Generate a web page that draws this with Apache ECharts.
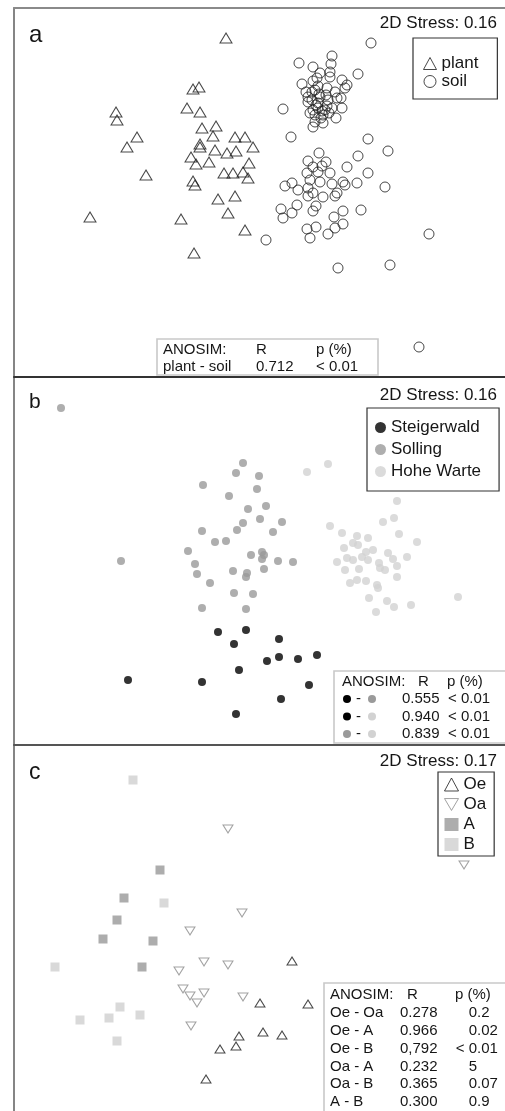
<!DOCTYPE html>
<html><head><meta charset="utf-8">
<script src="https://cdn.jsdelivr.net/npm/echarts/dist/echarts.min.js"></script>
<style>html,body{margin:0;padding:0;background:#fff}#c{width:505px;height:1111px}</style>
</head><body><div id="c"></div>
<script>
// ---------- DATA (NMDS scores; y grows downward) ----------
// Panel a
const plantPts = [[226,38],[193,89],[199,87],[187,108],[200,112],[116,112],[117,120],[137,137],[127,147],[202,128],[216,126],[213,136],[200,144],[200,147],[215,150],[235,137],[245,137],[253,147],[227,153],[236,151],[191,157],[196,164],[209,162],[249,163],[224,173],[233,173],[243,172],[146,175],[193,181],[195,185],[248,178],[218,199],[235,196],[228,213],[90,217],[181,219],[245,230],[194,253]];
const soilPts = [[371,43],[332,56],[299,63],[331,64],[313,67],[320,73],[330,72],[358,74],[317,78],[330,77],[342,80],[313,81],[302,84],[347,85],[345,88],[315,90],[327,88],[335,92],[308,97],[320,97],[328,100],[337,98],[341,98],[308,102],[318,103],[327,106],[332,108],[313,110],[322,111],[342,108],[315,115],[323,115],[336,118],[315,122],[323,123],[313,127],[283,109],[312,100],[318,108],[325,110],[316,105],[321,118],[310,113],[326,95],[319,94],[312,92],[329,113],[318,86],[306,92],[291,137],[368,139],[388,151],[319,153],[308,161],[326,162],[358,156],[322,166],[313,167],[318,172],[307,173],[330,173],[347,167],[368,173],[310,180],[285,186],[292,183],[298,190],[308,188],[320,182],[332,184],[343,182],[345,185],[357,183],[385,187],[313,193],[308,196],[323,197],[335,196],[337,193],[281,209],[297,205],[292,213],[283,218],[316,206],[313,211],[343,211],[361,210],[334,217],[343,224],[335,228],[316,227],[307,229],[328,234],[310,238],[266,240],[429,234],[338,268],[390,265],[419,347]];
// Panel b
const steigerwaldPts = [[218,632],[246,630],[234,644],[279,639],[279,657],[267,661],[298,659],[317,655],[239,670],[128,680],[202,682],[309,685],[281,699],[236,714]];
const sollingPts = [[61,408],[243,463],[236,473],[259,476],[203,485],[257,489],[229,496],[266,506],[248,509],[260,519],[243,523],[282,522],[202,531],[237,530],[273,532],[215,542],[226,541],[188,551],[121,561],[195,564],[197,574],[210,583],[251,555],[262,552],[264,555],[262,559],[278,561],[293,562],[233,571],[247,573],[246,577],[264,569],[234,593],[253,594],[202,608],[246,609]];
const hoheWartePts = [[328,464],[307,472],[397,501],[394,518],[383,522],[330,526],[342,533],[357,536],[368,538],[399,534],[417,542],[353,543],[344,548],[358,545],[366,552],[373,550],[388,553],[407,557],[337,562],[347,558],[353,560],[362,557],[368,560],[379,563],[393,559],[345,570],[359,569],[380,568],[385,570],[397,566],[397,577],[350,583],[357,580],[366,581],[377,585],[378,588],[458,597],[369,598],[387,601],[394,607],[411,605],[376,612]];
// Panel c
const oePts = [[292,961],[260,1003],[308,1004],[239,1036],[263,1032],[282,1035],[220,1049],[236,1046],[206,1079]];
const oaPts = [[228,829],[464,865],[242,913],[190,931],[204,962],[228,965],[179,971],[183,989],[190,996],[204,993],[197,1003],[243,997],[191,1026]];
const aPts = [[160,870],[124,898],[117,920],[103,939],[153,941],[142,967]];
const bPts = [[133,780],[164,903],[55,967],[120,1007],[80,1020],[109,1018],[140,1015],[117,1041]];

// Texts
const panelLabels = ['a','b','c'];
const stressLabels = ['2D Stress: 0.16','2D Stress: 0.16','2D Stress: 0.17'];
const anosimHeader = ['ANOSIM:','R','p (%)'];
const anosimARows = [['plant - soil','0.712','< 0.01']];
const anosimBRows = [['Steigerwald','Solling','0.555','< 0.01'],['Steigerwald','Hohe Warte','0.940','< 0.01'],['Solling','Hohe Warte','0.839','< 0.01']];
const anosimCRows = [['Oe - Oa','0.278','0.2'],['Oe - A','0.966','0.02'],['Oe - B','0,792','< 0.01'],['Oa - A','0.232','5'],['Oa - B','0.365','0.07'],['A - B','0.300','0.9']];

// ---------- CHART ----------
const FONT = '"Liberation Sans", Arial, Helvetica, sans-serif';
const siteColor = {'Steigerwald':'#000000','Solling':'#9a9a9a','Hohe Warte':'#d2d2d2'};
const panels = [{top:8,bottom:377,line:'#8a8a8a'},{top:377,bottom:745,line:'#333333'},{top:745,bottom:1111,line:'#555555'}];

const mctx = document.createElement('canvas').getContext('2d');
function measure(s, size){ mctx.font = size+'px '+FONT; return mctx.measureText(s).width; }
function txt(s, x, y, size, align, color){
  return {type:'text', x:x, y:y, z:20, silent:true,
    style:{text:s, fontSize:size, fontFamily:FONT, fill:color||'#161616', textAlign:align||'left', textVerticalAlign:'middle'}};
}
function box(x,y,w,h){
  return {type:'rect', z:15, silent:true, shape:{x:x,y:y,width:w,height:h}, style:{fill:'#fff', stroke:'#c9c9c9', lineWidth:1.6}};
}

const graphics = [];
const labelSizes = [24,21,23];
const labelY = [35,402,773];
const stressY = [23,395,761];
for (let i=0;i<3;i++){
  graphics.push(txt(panelLabels[i], 29, labelY[i], labelSizes[i]));
  graphics.push(txt(stressLabels[i], 497, stressY[i], 17, 'right'));
}
// ANOSIM a
graphics.push(box(157,339,221,36));
graphics.push(txt(anosimHeader[0],163,350,15), txt(anosimHeader[1],256,350,15), txt(anosimHeader[2],316,350,15));
anosimARows.forEach((r,k)=>{ const y=367+k*17; graphics.push(txt(r[0],163,y,15), txt(r[1],256,y,15), txt(r[2],316,y,15)); });
// ANOSIM b
graphics.push(box(334,671,172,72));
graphics.push(txt(anosimHeader[0],342,682,15), txt(anosimHeader[1],418,682,15), txt(anosimHeader[2],447,682,15));
anosimBRows.forEach((r,k)=>{
  const y=699+k*17.5;
  graphics.push({type:'circle', z:20, silent:true, shape:{cx:347,cy:y,r:4}, style:{fill:siteColor[r[0]]}});
  graphics.push(txt('-',356,y,15));
  graphics.push({type:'circle', z:20, silent:true, shape:{cx:372,cy:y,r:4}, style:{fill:siteColor[r[1]]}});
  graphics.push(txt(r[2],402,y,15), txt(r[3],448,y,15));
});
// ANOSIM c
graphics.push(box(324,983,184,140));
graphics.push(txt(anosimHeader[0],330,995,15), txt(anosimHeader[1],407,995,15), txt(anosimHeader[2],455,995,15));
const decX = 477;
anosimCRows.forEach((r,k)=>{
  const y=1013+k*17.8;
  const dot = r[2].indexOf('.');
  const intPart = dot>=0 ? r[2].slice(0,dot) : r[2];
  const px = decX - measure(intPart,15);
  graphics.push(txt(r[0],330,y,15), txt(r[1],400,y,15), txt(r[2],px,y,15));
});

const grids = panels.map(p=>({left:14, top:p.top, width:491, height:p.bottom-p.top}));
const xAxes = panels.map((p,i)=>({type:'value', gridIndex:i, min:14, max:505, position:'top',
  axisLine:{show:true, onZero:false, lineStyle:{color:p.line, width:2}}, axisTick:{show:false}, axisLabel:{show:false}, splitLine:{show:false}}));
const yAxes = panels.map((p,i)=>({type:'value', gridIndex:i, min:p.top, max:p.bottom, inverse:true, position:'left',
  axisLine:{show:true, onZero:false, lineStyle:{color:'#858585', width:2}}, axisTick:{show:false}, axisLabel:{show:false}, splitLine:{show:false}}));

function sc(name, gi, data, symbol, size, itemStyle, z){
  return {name:name, type:'scatter', xAxisIndex:gi, yAxisIndex:gi, data:data, symbol:symbol, symbolSize:size,
    itemStyle:itemStyle, clip:false, silent:true, emphasis:{disabled:true}, z:z||3};
}
const hollow = (c)=>({color:'rgba(0,0,0,0)', borderColor:c, borderWidth:1});
const downTri = 'path://M0,0L20,0L10,17Z';

const series = [
  sc('plant',0,plantPts,'triangle',[12,10],hollow('#1a1a1a')),
  sc('soil',0,soilPts,'circle',10,hollow('#1a1a1a')),
  sc('Steigerwald',1,steigerwaldPts,'circle',8,{color:siteColor['Steigerwald']}),
  sc('Solling',1,sollingPts,'circle',8,{color:siteColor['Solling']}),
  sc('Hohe Warte',1,hoheWartePts,'circle',8,{color:siteColor['Hohe Warte']}),
  sc('Oe',2,oePts,'triangle',[10,8],hollow('#1a1a1a')),
  sc('Oa',2,oaPts,downTri,[10,8],hollow('#8a8a8a'),6),
  sc('A',2,aPts,'rect',9,{color:'#999999'}),
  sc('B',2,bPts,'rect',9,{color:'#d0d0d0'})
];

const legendBase = {orient:'vertical', selectedMode:false, borderColor:'#333', borderWidth:1.2, backgroundColor:'#fff',
  textStyle:{fontFamily:FONT, color:'#161616'}, itemStyle:{borderWidth:1}};
const legends = [
  Object.assign({}, legendBase, {data:['plant','soil'], left:413, top:38, itemWidth:13, itemHeight:12, itemGap:1, itemTextGap:4,
    padding:[17,19,9,10], textStyle:{fontFamily:FONT, color:'#161616', fontSize:17}}),
  Object.assign({}, legendBase, {data:['Steigerwald','Solling','Hohe Warte'], left:367, top:408, itemWidth:11, itemHeight:11, itemGap:5, itemTextGap:4,
    padding:[11,18,11,8], textStyle:{fontFamily:FONT, color:'#161616', fontSize:17}}),
  Object.assign({}, legendBase, {data:['Oe','Oa','A','B'], left:438, top:772, itemWidth:14, itemHeight:13, itemGap:3, itemTextGap:4,
    padding:[4,8,3,6], textStyle:{fontFamily:FONT, color:'#161616', fontSize:17}})
];

const chart = echarts.init(document.getElementById('c'), null, {renderer:'canvas', width:505, height:1111});
chart.setOption({
  animation:false,
  backgroundColor:'#fff',
  grid:grids, xAxis:xAxes, yAxis:yAxes,
  legend:legends,
  series:series,
  graphic:{elements:graphics}
});
</script>
</body></html>
